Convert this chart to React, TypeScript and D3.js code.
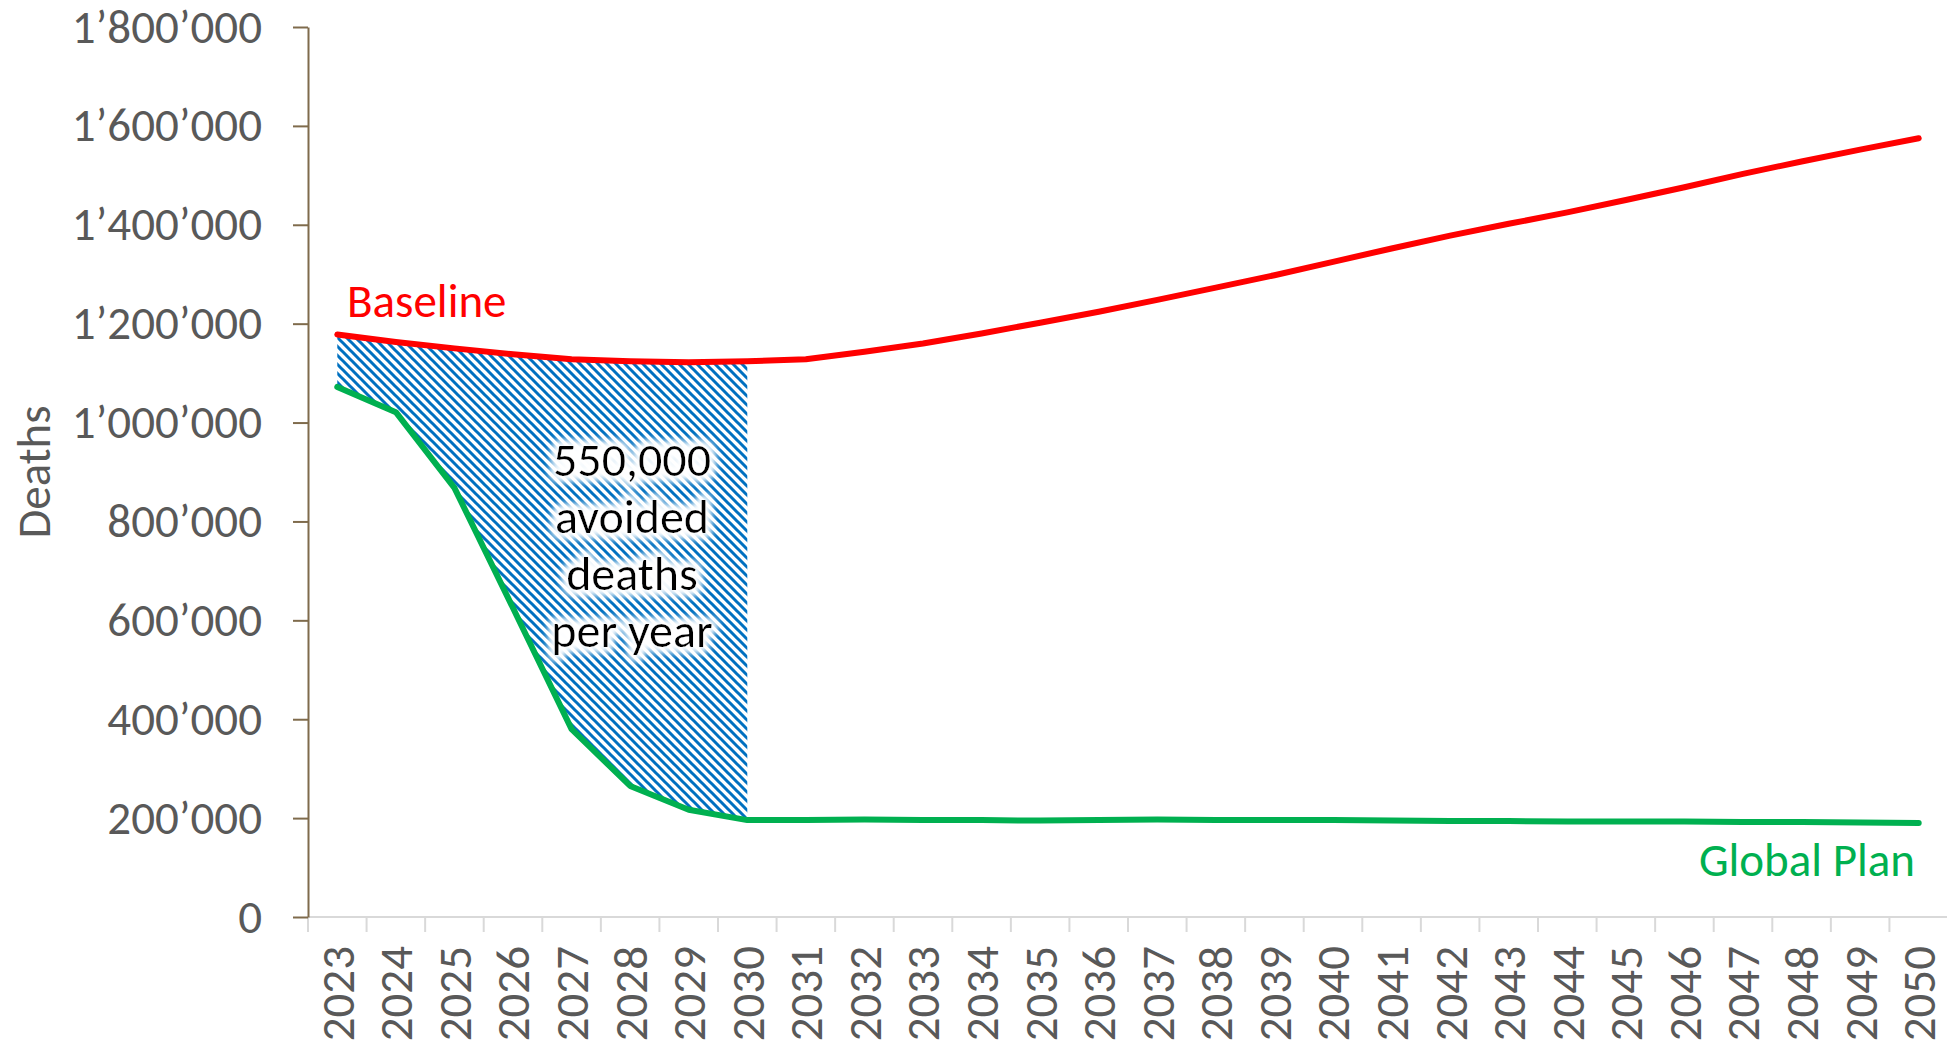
import React, { useEffect, useRef } from "react";
import * as d3 from "d3";

// categories
const years = [
  "2023", "2024", "2025", "2026", "2027", "2028", "2029", "2030", "2031", "2032",
  "2033", "2034", "2035", "2036", "2037", "2038", "2039", "2040", "2041", "2042",
  "2043", "2044", "2045", "2046", "2047", "2048", "2049", "2050",
];

// deaths per year
const baseline = [
  1178000, 1163000, 1150000, 1138000, 1128000, 1124000, 1122000, 1124000, 1128000, 1143000,
  1160000, 1180000, 1202000, 1224000, 1248000, 1273000, 1298000, 1325000, 1352000, 1378000,
  1402000, 1425000, 1450000, 1476000, 1503000, 1528000, 1552000, 1575000,
];
const globalPlan = [
  1072000, 1021000, 868000, 625000, 380000, 265000, 217000, 196000, 196000, 197000,
  196000, 196000, 195000, 196000, 197000, 196000, 196000, 196000, 195000, 194000,
  194000, 193000, 193000, 193000, 192000, 192000, 191000, 190000,
];

// years covered by the hatched "avoided deaths" area
const avoidedYears = ["2023", "2024", "2025", "2026", "2027", "2028", "2029", "2030"];
const avoidedLabel = ["550,000", "avoided", "deaths", "per year"];

const yTicks = [0, 200000, 400000, 600000, 800000, 1000000, 1200000, 1400000, 1600000, 1800000];

const W = 1947;
const H = 1046;
const FONT = "Calibri, Carlito, Lato, 'Open Sans', sans-serif";
const FS = 47;

export default function App() {
  const ref = useRef<SVGSVGElement>(null);

  useEffect(() => {
    document.body.style.margin = "0";
    document.body.style.overflow = "hidden";

    const svg = d3.select(ref.current);
    svg.selectAll("*").remove();

    const left = 308, right = 1948, top = 27, bottom = 917;

    const x = d3.scaleBand<string>().domain(years).range([left, right]).padding(0);
    const y = d3.scaleLinear().domain([0, 1800000]).range([bottom, top]);
    const bw = x.bandwidth();
    const cx = (c: string) => (x(c) as number) + bw / 2;

    const defs = svg.append("defs");
    const pat = defs.append("pattern")
      .attr("id", "hatch")
      .attr("patternUnits", "userSpaceOnUse")
      .attr("width", 9)
      .attr("height", 9);
    pat.append("path")
      .attr("d", "M0,0 L9,9 M7,-2 L11,2 M-2,7 L2,11")
      .attr("stroke", "#0070C0")
      .attr("stroke-width", 3);

    const halo = defs.append("filter")
      .attr("id", "halo")
      .attr("x", "-20%").attr("y", "-30%")
      .attr("width", "140%").attr("height", "160%");
    halo.append("feMorphology").attr("in", "SourceAlpha").attr("operator", "dilate").attr("radius", 4).attr("result", "d");
    halo.append("feGaussianBlur").attr("in", "d").attr("stdDeviation", 4).attr("result", "b");
    halo.append("feFlood").attr("flood-color", "#ffffff");
    halo.append("feComposite").attr("in2", "b").attr("operator", "in").attr("result", "w");
    const merge = halo.append("feMerge");
    merge.append("feMergeNode").attr("in", "w");
    merge.append("feMergeNode").attr("in", "w");
    merge.append("feMergeNode").attr("in", "SourceGraphic");

    // x axis (light grey, ticks between categories)
    const xg = svg.append("g");
    xg.append("line")
      .attr("x1", left).attr("x2", W)
      .attr("y1", bottom).attr("y2", bottom)
      .attr("stroke", "#d9d9d9").attr("stroke-width", 2);
    const edges = years.map(c => x(c) as number).concat([x.range()[1]]);
    xg.selectAll("line.tk")
      .data(edges)
      .enter().append("line")
      .attr("class", "tk")
      .attr("x1", d => d).attr("x2", d => d)
      .attr("y1", bottom).attr("y2", bottom + 15)
      .attr("stroke", "#d9d9d9").attr("stroke-width", 2);
    xg.selectAll("text")
      .data(years)
      .enter().append("text")
      .attr("transform", d => `translate(${cx(d)},946) rotate(-90)`)
      .attr("dy", "0.35em")
      .attr("text-anchor", "end")
      .attr("font-family", FONT)
      .attr("font-size", FS)
      .attr("fill", "#595959")
      .text(d => d);

    // y axis
    const fmt = (v: number) => d3.format(",")(v).replace(/,/g, "\u2019");
    const yg = svg.append("g")
      .attr("transform", `translate(${left},0)`)
      .call(d3.axisLeft(y).tickValues(yTicks).tickSize(15).tickSizeOuter(0).tickPadding(31).tickFormat(d => fmt(+d)));
    yg.select(".domain").attr("stroke", "#7F6B4C").attr("stroke-width", 2);
    yg.selectAll(".tick line").attr("stroke", "#7F6B4C").attr("stroke-width", 2);
    yg.selectAll(".tick text")
      .attr("font-family", FONT)
      .attr("font-size", FS)
      .attr("fill", "#595959");

    svg.append("text")
      .attr("transform", "translate(50,472) rotate(-90)")
      .attr("text-anchor", "middle")
      .attr("font-family", FONT)
      .attr("font-size", FS)
      .attr("fill", "#595959")
      .text("Deaths");

    // hatched area between the two series
    const idx = avoidedYears.map(c => years.indexOf(c));
    const area = d3.area<number>()
      .x(i => cx(years[i]))
      .y0(i => y(globalPlan[i]))
      .y1(i => y(baseline[i]));
    svg.append("path")
      .attr("d", area(idx) as string)
      .attr("fill", "url(#hatch)");

    const lbl = svg.append("text")
      .attr("text-anchor", "middle")
      .attr("font-family", FONT)
      .attr("font-size", 48)
      .attr("fill", "#000000")
      .attr("filter", "url(#halo)");
    avoidedLabel.forEach((t, i) => {
      lbl.append("tspan")
        .attr("x", 632)
        .attr("y", 476 + i * 57)
        .text(t);
    });

    const line = d3.line<number>()
      .x((d, i) => cx(years[i]))
      .y(d => y(d));

    svg.append("path")
      .attr("d", line(baseline) as string)
      .attr("fill", "none")
      .attr("stroke", "#FF0000")
      .attr("stroke-width", 6)
      .attr("stroke-linecap", "round")
      .attr("stroke-linejoin", "round");

    svg.append("path")
      .attr("d", line(globalPlan) as string)
      .attr("fill", "none")
      .attr("stroke", "#00B050")
      .attr("stroke-width", 6)
      .attr("stroke-linecap", "round")
      .attr("stroke-linejoin", "round");

    svg.append("text")
      .attr("x", 347).attr("y", 317)
      .attr("font-family", FONT)
      .attr("font-size", FS)
      .attr("fill", "#FF0000")
      .text("Baseline");

    svg.append("text")
      .attr("x", 1915).attr("y", 876)
      .attr("text-anchor", "end")
      .attr("font-family", FONT)
      .attr("font-size", FS)
      .attr("fill", "#00B050")
      .text("Global Plan");
  }, []);

  return (
    <svg
      ref={ref}
      width={W}
      height={H}
      style={{ position: "absolute", left: 0, top: 0, background: "#ffffff" }}
    ></svg>
  );
}
